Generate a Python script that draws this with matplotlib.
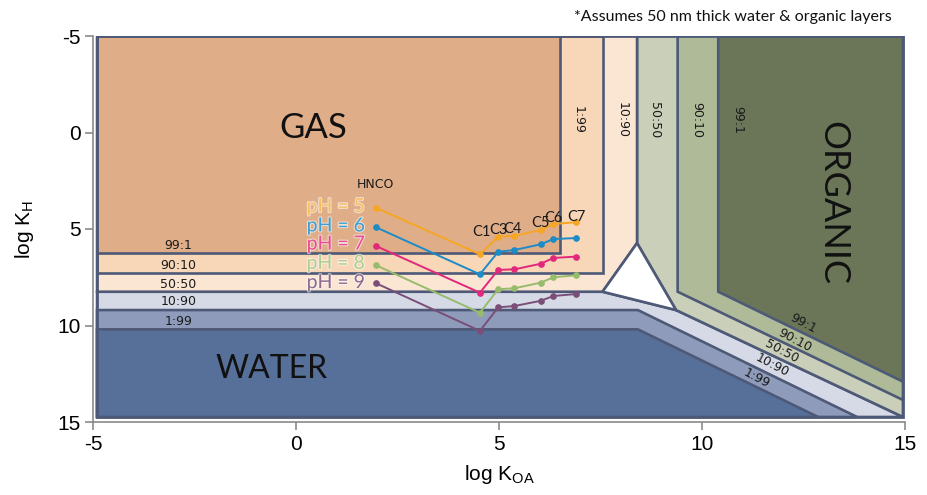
import matplotlib
matplotlib.use('Agg')
import matplotlib.pyplot as plt
from matplotlib.patches import Polygon, Rectangle
import matplotlib.patheffects as pe
from matplotlib import font_manager

plt.rcParams['axes.unicode_minus'] = False
names = {f.name for f in font_manager.fontManager.ttflist}
NARROW = 'Liberation Sans Narrow' if 'Liberation Sans Narrow' in names else 'Liberation Sans'
CAL = 'Lato' if 'Lato' in names else 'DejaVu Sans'

# ---------------- data ----------------
compounds = ['HNCO', 'C1', 'C3', 'C4', 'C5', 'C6', 'C7']
log_koa = [1.97, 4.53, 4.98, 5.38, 6.03, 6.34, 6.90]
ph_labels = ['pH = 5', 'pH = 6', 'pH = 7', 'pH = 8', 'pH = 9']
log_kh_ph5 = [3.90, 6.31, 5.40, 5.36, 5.05, 4.74, 4.65]
log_kh_ph6 = [4.91, 7.35, 6.18, 6.09, 5.79, 5.52, 5.47]
log_kh_ph7 = [5.88, 8.30, 7.12, 7.09, 6.80, 6.50, 6.43]
log_kh_ph8 = [6.88, 9.34, 8.12, 8.07, 7.78, 7.50, 7.40]
log_kh_ph9 = [7.81, 10.28, 9.06, 8.99, 8.72, 8.47, 8.37]
series = [log_kh_ph5, log_kh_ph6, log_kh_ph7, log_kh_ph8, log_kh_ph9]
ph_colors = ['#F6A623', '#1C8BC6', '#E2287C', '#97BC6C', '#7A4E78']
ph_text_colors = ['#F9BC62', '#3C9FD4', '#EA4C93', '#AECD8E', '#8E6A8C']

ratio_labels = ['99:1', '90:10', '50:50', '10:90', '1:99']
# phase-boundary positions
x_min, x_max = -4.9, 14.95
y_top, y_bot = -5.0, 14.74
gas_water_y = [6.26, 7.26, 8.25, 9.20, 10.20]   # gas:water 99:1 ... 1:99
org_gas_x = [6.50, 7.55, 8.40, 9.40, 10.40]     # organic:gas 1:99 ... 99:1
apex_y = 5.73
tri_right = (9.36, 9.20)
water_bend_x = 8.42
water_diag_bottom_x = [13.82, 12.86]   # 10:90, 1:99 reach bottom edge
org_diag_right_y = [13.86, 12.91]      # 90:10, 99:1 reach right edge

# ---------------- figure ----------------
fig = plt.figure(figsize=(9.27, 4.95), dpi=100)
ax = fig.add_axes([93/927, 1-422/495, (905-93)/927, (422-36)/495])
ax.set_xlim(-5, 15)
ax.set_ylim(15, -5)

EDGE = '#4D5977'
LW = 1.9

def poly(pts, fc, z):
    ax.add_patch(Polygon(pts, closed=True, facecolor=fc, edgecolor=EDGE,
                         linewidth=LW, joinstyle='miter', zorder=z))

gw = gas_water_y
ox = org_gas_x
apex = (ox[2], apex_y)
tri_left = (ox[1], gw[2])

# water side
poly([(x_min, gw[2]), tri_left, tri_right, (x_max, y_bot), (x_min, y_bot)], '#D6DAE6', 1)
poly([(x_min, gw[3]), (water_bend_x, gw[3]), (water_diag_bottom_x[0], y_bot), (x_min, y_bot)], '#8F9BBA', 1.1)
poly([(x_min, gw[4]), (water_bend_x, gw[4]), (water_diag_bottom_x[1], y_bot), (x_min, y_bot)], '#577099', 1.2)
# organic side
poly([(ox[2], y_top), (x_max, y_top), (x_max, y_bot), tri_right, apex], '#C9CFB9', 1.3)
poly([(ox[3], y_top), (x_max, y_top), (x_max, org_diag_right_y[0]), (ox[3], gw[2])], '#AFBA98', 1.4)
poly([(ox[4], y_top), (x_max, y_top), (x_max, org_diag_right_y[1]), (ox[4], gw[2])], '#6A7657', 1.5)
# gas side
poly([(x_min, y_top), (ox[2], y_top), apex, tri_left, (x_min, gw[2])], '#FBE6D4', 1.6)
poly([(x_min, y_top), (ox[1], y_top), (ox[1], gw[1]), (x_min, gw[1])], '#F8D6B8', 1.7)
poly([(x_min, y_top), (ox[0], y_top), (ox[0], gw[0]), (x_min, gw[0])], '#DFAE89', 1.8)
# three-phase triangle
poly([apex, tri_left, tri_right], '#FFFFFF', 1.9)
ax.add_patch(Rectangle((x_min, y_top), x_max - x_min, y_bot - y_top, fill=False,
                       edgecolor=EDGE, linewidth=LW, zorder=2))

# ratio labels
small = dict(fontsize=9, color='#1a1a1a', family='DejaVu Sans', zorder=3,
             ha='center', va='center')
h_label_y = [5.83, 6.87, 7.85, 8.78, 9.77]
for lab, yy in zip(ratio_labels, h_label_y):
    ax.text(-2.9, yy, lab, **small)
v_label_x = [6.95, 8.03, 8.84, 9.88, 10.89]
for lab, xx in zip(ratio_labels[::-1], v_label_x):
    ax.text(xx, -0.65, lab, rotation=-90, **small)
d_label_xy = [(12.49, 9.89), (12.29, 10.75), (11.96, 11.36), (11.72, 12.05), (11.35, 12.74)]
for lab, (xx, yy) in zip(ratio_labels, d_label_xy):
    ax.text(xx, yy, lab, rotation=-28, rotation_mode='anchor', **small)

# phase names
ax.text(0.42, -0.23, 'GAS', fontsize=25, family=CAL, ha='center', va='center', color='#111', zorder=3)
ax.text(-0.59, 12.25, 'WATER', fontsize=23, family=CAL, ha='center', va='center', color='#111', zorder=3)
ax.text(13.23, 3.65, 'ORGANIC', fontsize=26, family=CAL, ha='center', va='center', color='#111',
        rotation=-90, zorder=3)

# pH series
for ys, c in zip(series, ph_colors):
    ax.plot(log_koa, ys, '-o', color=c, linewidth=1.4, markersize=3.8, zorder=5)
ph_label_y = [3.84, 4.84, 5.78, 6.78, 7.78]
for lab, yy, c in zip(ph_labels, ph_label_y, ph_text_colors):
    ax.text(1.7, yy, lab, fontsize=14, family=CAL, color=c, ha='right', va='center', zorder=6,
            path_effects=[pe.withStroke(linewidth=1.5, foreground='#FFFFFF', alpha=0.6)])
ax.text(1.95, 2.72, compounds[0], fontsize=9, family='DejaVu Sans', ha='center', va='center',
        color='#1a1a1a', zorder=6)
c_label_xy = [(4.56, 5.16), (4.98, 5.05), (5.34, 5.00), (6.03, 4.69), (6.33, 4.43), (6.90, 4.38)]
for lab, (xx, yy) in zip(compounds[1:], c_label_xy):
    ax.text(xx, yy, lab, fontsize=10.5, family=CAL, ha='center', va='center', color='#1a1a1a', zorder=6)

# axes styling
for s in ['top', 'right']:
    ax.spines[s].set_visible(False)
for s in ['left', 'bottom']:
    ax.spines[s].set_color('#8a8a8a')
    ax.spines[s].set_linewidth(1.2)
ax.set_xticks([-5, 0, 5, 10, 15])
ax.set_yticks([-5, 0, 5, 10, 15])
ax.tick_params(direction='out', length=6, width=1.2, color='#8a8a8a', labelsize=15, pad=3)
for t in ax.get_xticklabels() + ax.get_yticklabels():
    t.set_family(NARROW)

plt.rcParams['mathtext.fontset'] = 'custom'
plt.rcParams['mathtext.rm'] = NARROW
ax.text(-0.084, 0.5, r'log K$_{\mathrm{H}}$', transform=ax.transAxes, rotation=90,
        ha='center', va='center', fontsize=15, family=NARROW)
ax.text(0.5, -0.137, r'log K$_{\mathrm{OA}}$', transform=ax.transAxes,
        ha='center', va='center', fontsize=15, family=NARROW)

fig.text(733/927, 1-17/495, '*Assumes 50 nm thick water & organic layers', ha='center', va='center',
         fontsize=11.5, family=CAL, color='#111')

fig.savefig('out.png', dpi=100)
